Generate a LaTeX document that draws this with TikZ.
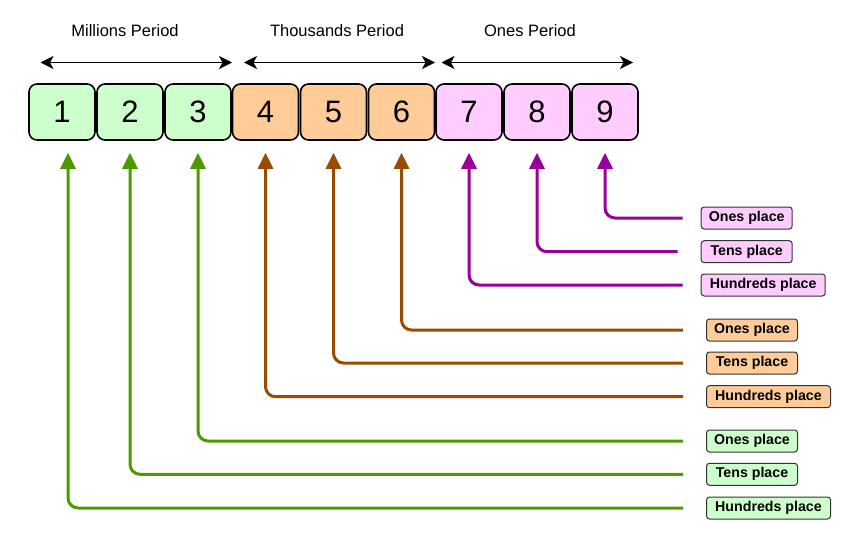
\documentclass[tikz,border=0pt]{standalone}
\usepackage{fontspec}
\setmainfont{Liberation Sans}
\usetikzlibrary{arrows.meta}
\definecolor{gfill}{HTML}{CCFFCC}
\definecolor{ofill}{HTML}{FFCC99}
\definecolor{pfill}{HTML}{FFCCFF}
\definecolor{gline}{HTML}{4D9900}
\definecolor{oline}{HTML}{994C00}
\definecolor{pline}{HTML}{990099}
\tikzset{
  digit/.style={draw=black, line width=1.6pt, rounded corners=8pt, minimum width=66pt, minimum height=56pt, inner sep=0pt, font=\fontsize{31}{33}\selectfont},
  plabel/.style={draw=black!80, line width=1pt, rounded corners=3pt, minimum height=22pt, inner sep=2pt, anchor=west, font=\fontsize{14.2}{16}\selectfont\bfseries},
  shortbox/.style={plabel, minimum width=91pt},
  longbox/.style={plabel, minimum width=124pt},
  period/.style={font=\fontsize{16.5}{19}\selectfont},
  periodarrow/.style={line width=1.5pt, {Stealth[length=13pt,width=13pt,inset=3.5pt]}-{Stealth[length=13pt,width=13pt,inset=3.5pt]}},
  conn/.style={line width=3pt, rounded corners=10pt, -{Triangle[length=16pt,width=15pt]}, shorten >=12pt},
}
\begin{document}
\begin{tikzpicture}[x=1pt,y=-1pt]
\useasboundingbox (0,0) rectangle (856,538);
% digit boxes
\node[digit, fill=gfill] (b1) at (62,112) {1};
\node[digit, fill=gfill] (b2) at (130,112) {2};
\node[digit, fill=gfill] (b3) at (198,112) {3};
\node[digit, fill=ofill] (b4) at (265.5,112) {4};
\node[digit, fill=ofill] (b5) at (333.5,112) {5};
\node[digit, fill=ofill] (b6) at (401.5,112) {6};
\node[digit, fill=pfill] (b7) at (469,112) {7};
\node[digit, fill=pfill] (b8) at (537,112) {8};
\node[digit, fill=pfill] (b9) at (605,112) {9};
% period titles
\node[period] (tm) at (125,31) {Millions Period};
\node[period] (tt) at (337,31) {Thousands Period};
\node[period] (to) at (530,31) {Ones Period};
\coordinate (m1) at (40.5,62.5); \coordinate (m2) at (232,62.5);
\coordinate (t1) at (244,62.5); \coordinate (t2) at (435,62.5);
\coordinate (o1) at (441.5,62.5); \coordinate (o2) at (633,62.5);
\draw[periodarrow] (m1) -- (m2);
\draw[periodarrow] (t1) -- (t2);
\draw[periodarrow] (o1) -- (o2);
% labels
\node[shortbox, fill=pfill] (p1) at (700.7,218) {Ones place};
\node[shortbox, fill=pfill] (p2) at (700.7,251.7) {Tens place};
\node[longbox, fill=pfill] (p3) at (700.7,285) {Hundreds place};
\node[shortbox, fill=ofill] (o1l) at (706,330) {Ones place};
\node[shortbox, fill=ofill] (o2l) at (706,363) {Tens place};
\node[longbox, fill=ofill] (o3l) at (706,396.7) {Hundreds place};
\node[shortbox, fill=gfill] (g1) at (706,441) {Ones place};
\node[shortbox, fill=gfill] (g2) at (706,474.3) {Tens place};
\node[longbox, fill=gfill] (g3) at (706,508) {Hundreds place};
% connectors
\draw[conn, pline, shorten <=18pt] (p1.west) -| (b9.south);
\draw[conn, pline, shorten <=23pt] (p2.west) -| (b8.south);
\draw[conn, pline, shorten <=18pt] (p3.west) -| (b7.south);
\draw[conn, oline, shorten <=23pt] (o1l.west) -| (b6.south);
\draw[conn, oline, shorten <=23pt] (o2l.west) -| (b5.south);
\draw[conn, oline, shorten <=23pt] (o3l.west) -| (b4.south);
\draw[conn, gline, shorten <=23pt] (g1.west) -| (b3.south);
\draw[conn, gline, shorten <=23pt] (g2.west) -| (b2.south);
\draw[conn, gline, shorten <=23pt] (g3.west) -| ([xshift=6pt]b1.south);
\end{tikzpicture}
\end{document}
